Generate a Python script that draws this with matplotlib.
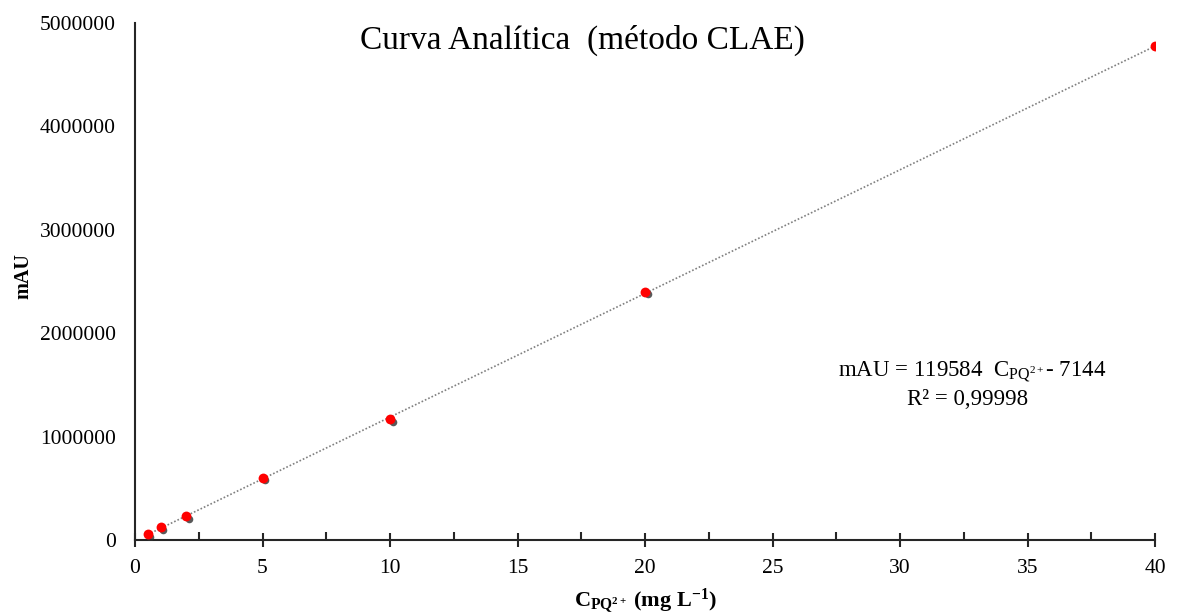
import matplotlib
matplotlib.use("Agg")
import matplotlib.pyplot as plt
import numpy as np
from matplotlib.ticker import MultipleLocator, FuncFormatter
import matplotlib.transforms as mtransforms

plt.rcParams['font.family'] = ['Liberation Serif', 'DejaVu Serif']
plt.rcParams['mathtext.fontset'] = 'custom'
plt.rcParams['mathtext.rm'] = 'Liberation Serif'
plt.rcParams['mathtext.it'] = 'Liberation Serif'
plt.rcParams['mathtext.bf'] = 'Liberation Serif:bold'

# Calibration standards (mg/L) and peak areas (mAU)
conc = [0.5, 1, 2, 5, 10, 20, 40]
area = [55000, 122000, 230000, 600000, 1170000, 2400000, 4780000]

slope = 119584
intercept = -7144
r2_text = "0,99998"

fig = plt.figure(figsize=(11.78, 6.15), dpi=100)
ax = fig.add_axes([135 / 1178, 75 / 615, 1020 / 1178, 517 / 615])

# Trend line over the calibration range
xl = np.array([min(conc), max(conc)])
ax.plot(xl, slope * xl + intercept, linestyle=(0, (1, 1.2)), color='#808080',
        linewidth=1.2, zorder=2)

# Marker shadow, then markers
shadow = mtransforms.offset_copy(ax.transData, fig=fig, x=1.8, y=-1.8, units='points')
ax.scatter(conc, area, s=30, color='#303030', alpha=0.8, transform=shadow,
           zorder=3, linewidths=0)
ax.scatter(conc, area, s=50, color='#ff0000', zorder=4, linewidths=0)

ax.set_xlim(0, 40)
ax.set_ylim(0, 5000000)
ax.xaxis.set_major_locator(MultipleLocator(5))
ax.xaxis.set_minor_locator(MultipleLocator(2.5))
ax.yaxis.set_major_locator(MultipleLocator(1000000))
ax.yaxis.set_major_formatter(FuncFormatter(lambda v, p: f"{int(v)}"))

for s in ['top', 'right']:
    ax.spines[s].set_visible(False)
for s in ['left', 'bottom']:
    ax.spines[s].set_linewidth(1.5)
    ax.spines[s].set_color('#262626')

ax.tick_params(axis='x', which='major', direction='inout', length=10, width=1.5,
               color='#262626', labelsize=15.5, pad=9)
ax.tick_params(axis='x', which='minor', direction='in', length=6, width=1.5,
               color='#262626')
ax.tick_params(axis='y', which='major', length=0, labelsize=15.5, pad=14)

ax.set_ylabel('mAU', fontsize=14.5, fontweight='bold')
ax.yaxis.set_label_coords(-0.100, 0.51)
ax.set_xlabel(r'$\mathbf{C_{PQ^{2+}}}$ $\mathbf{(mg\ L^{-1})}$', fontsize=16)
ax.xaxis.set_label_coords(0.5, -0.09)

ax.text(0.439, 0.967, 'Curva Analítica  (método CLAE)', transform=ax.transAxes,
        ha='center', va='center', fontsize=24)

ax.text(0.952, 0.325,
        'mAU = %d  C$_{\\mathrm{PQ}^{2+}}$- %d' % (slope, -intercept),
        transform=ax.transAxes, ha='right', va='center', fontsize=16.5)
ax.text(0.816, 0.271, 'R² = ' + r2_text, transform=ax.transAxes,
        ha='center', va='center', fontsize=16.5)

fig.savefig('out.png', dpi=100)
